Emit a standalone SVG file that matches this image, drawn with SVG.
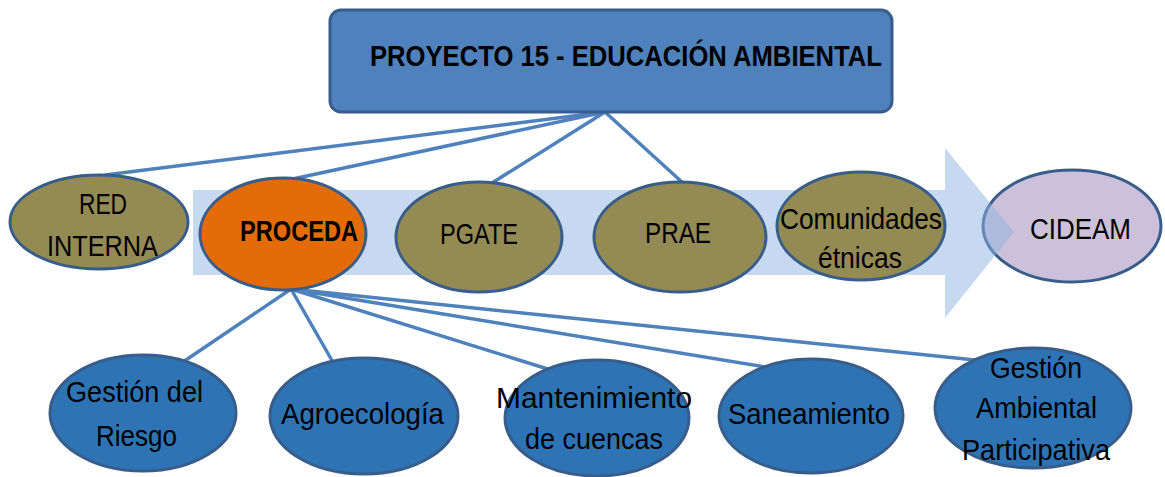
<svg xmlns="http://www.w3.org/2000/svg" width="1165" height="477" viewBox="0 0 1165 477">
<style>
.t{font-family:"Liberation Sans",Arial,sans-serif;font-size:29px;fill:#000}
.b{font-weight:bold}
.olive{fill:#948a54;stroke:#385d8a;stroke-width:3}
.blue{fill:#2e74b5;stroke:#385d8a;stroke-width:3}
.conn{stroke:#4f81bd;stroke-width:3.5;fill:none}
</style>
<rect width="1165" height="477" fill="#fff"/>
<g id="cideam">
<ellipse cx="1072" cy="226" rx="89" ry="56" fill="#ccc0da" stroke="#385d8a" stroke-width="3"/>
<text class="t" x="1030" y="239" textLength="101" lengthAdjust="spacingAndGlyphs">CIDEAM</text>
</g>
<g id="flow-arrow">
<path d="M193,190 H945 V148 L1014,232 L945,318 V275 H193 Z" fill="#8db3e2" fill-opacity="0.5"/>
</g>
<g id="connectors">
<line class="conn" x1="605" y1="112" x2="105" y2="175"/>
<line class="conn" x1="605" y1="112" x2="288" y2="180"/>
<line class="conn" x1="605" y1="112" x2="492" y2="183"/>
<line class="conn" x1="605" y1="112" x2="683" y2="183"/>
<line class="conn" x1="291" y1="289" x2="180" y2="364"/>
<line class="conn" x1="291" y1="289" x2="334" y2="364"/>
<line class="conn" x1="291" y1="289" x2="551" y2="370"/>
<line class="conn" x1="291" y1="289" x2="796" y2="372"/>
<line class="conn" x1="291" y1="289" x2="975" y2="360"/>
</g>
<g id="proyecto">
<rect x="330" y="10" width="562" height="102" rx="11" fill="#4f81bd" stroke="#385d8a" stroke-width="3"/>
<text class="t b" x="370" y="66" font-size="32" textLength="512" lengthAdjust="spacingAndGlyphs">PROYECTO 15 - EDUCACIÓN  AMBIENTAL</text>
</g>
<g id="red-interna">
<ellipse class="olive" cx="99" cy="222" rx="89" ry="47"/>
<text class="t" x="79" y="214" textLength="48" lengthAdjust="spacingAndGlyphs">RED</text>
<text class="t" x="47" y="256" textLength="111" lengthAdjust="spacingAndGlyphs">INTERNA</text>
</g>
<g id="proceda">
<ellipse cx="283" cy="234" rx="83" ry="56" fill="#e36c09" stroke="#385d8a" stroke-width="3"/>
<text class="t b" x="240" y="241" textLength="118" lengthAdjust="spacingAndGlyphs">PROCEDA</text>
</g>
<g id="pgate">
<ellipse class="olive" cx="479" cy="237" rx="83" ry="55"/>
<text class="t" x="440" y="244" textLength="78" lengthAdjust="spacingAndGlyphs">PGATE</text>
</g>
<g id="prae">
<ellipse class="olive" cx="680" cy="237" rx="86" ry="55"/>
<text class="t" x="645" y="243" textLength="66" lengthAdjust="spacingAndGlyphs">PRAE</text>
</g>
<g id="comunidades">
<ellipse class="olive" cx="861" cy="226" rx="84" ry="54"/>
<text class="t" x="780" y="229" textLength="162" lengthAdjust="spacingAndGlyphs">Comunidades</text>
<text class="t" x="818" y="268" textLength="84" lengthAdjust="spacingAndGlyphs">étnicas</text>
</g>
<g id="gestion-riesgo">
<ellipse class="blue" cx="143" cy="413" rx="93" ry="58"/>
<text class="t" x="66" y="402" textLength="137" lengthAdjust="spacingAndGlyphs">Gestión del</text>
<text class="t" x="96" y="446" textLength="81" lengthAdjust="spacingAndGlyphs">Riesgo</text>
</g>
<g id="agroecologia">
<ellipse class="blue" cx="364" cy="416" rx="94" ry="58"/>
<text class="t" x="281" y="424" textLength="163" lengthAdjust="spacingAndGlyphs">Agroecología</text>
</g>
<g id="mantenimiento">
<ellipse class="blue" cx="597" cy="418" rx="92" ry="58"/>
<text class="t" x="496" y="408" textLength="196" lengthAdjust="spacingAndGlyphs">Mantenimiento</text>
<text class="t" x="525" y="449" textLength="138" lengthAdjust="spacingAndGlyphs">de cuencas</text>
</g>
<g id="saneamiento">
<ellipse class="blue" cx="811" cy="416" rx="92" ry="57"/>
<text class="t" x="728" y="424" textLength="162" lengthAdjust="spacingAndGlyphs">Saneamiento</text>
</g>
<g id="gestion-ambiental">
<ellipse class="blue" cx="1033" cy="408" rx="98" ry="60"/>
<text class="t" x="990" y="378" textLength="92" lengthAdjust="spacingAndGlyphs">Gestión</text>
<text class="t" x="976" y="418" textLength="121" lengthAdjust="spacingAndGlyphs">Ambiental</text>
<text class="t" x="962" y="460" textLength="148" lengthAdjust="spacingAndGlyphs">Participativa</text>
</g>
</svg>
